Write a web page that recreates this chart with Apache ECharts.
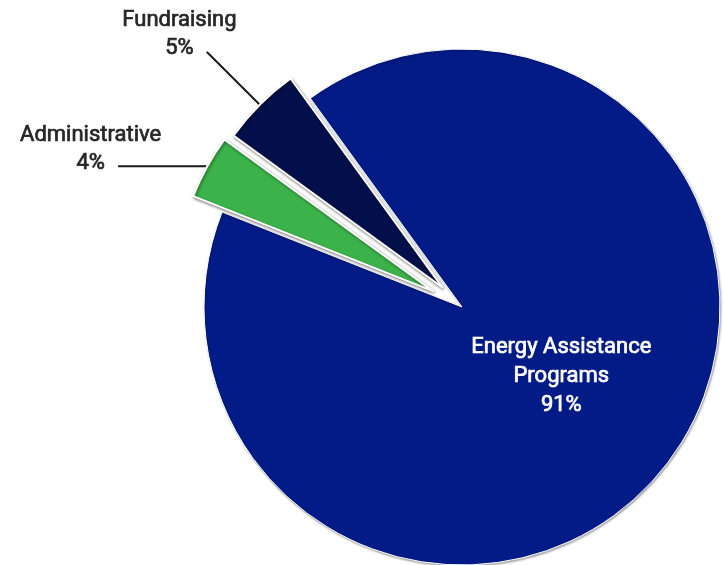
<!DOCTYPE html>
<html><head><meta charset="utf-8">
<script src="https://cdn.jsdelivr.net/npm/echarts@6/dist/echarts.min.js"></script>
<style>html,body{margin:0;padding:0;background:#fff}#chart{width:724px;height:565px}</style>
</head><body><div id="chart"></div>
<script>
// ---- data ----
const categories = ['Energy Assistance Programs', 'Administrative', 'Fundraising'];
const labelNames = ['Energy Assistance\nPrograms', 'Administrative', 'Fundraising'];
const values = [91, 4, 5];

// ---- styling ----
const colors = ['#031B86', '#3CB24A', '#020F4A'];
const explodeDist = [0, 33, 28];
const labelShift = [[-5, -11], [-27.5, -17], [-27, -17.5]];
const START = 126, CX = 462, CY = 307, R = 258;

const total = values.reduce((a, b) => a + b, 0);
let acc = 0;
const mids = values.map(v => {
  const a0 = START - acc / total * 360; acc += v;
  const a1 = START - acc / total * 360;
  return (a0 + a1) / 2 * Math.PI / 180;
});

const textColor = '#262626';
const fontFam = 'Roboto, "Liberation Sans", sans-serif';

function makeSeries(k) {
  const d = explodeDist[k];
  const center = [CX + Math.cos(mids[k]) * d, CY - Math.sin(mids[k]) * d];
  const inside = k === 0;
  return {
    type: 'pie',
    silent: true,
    animation: false,
    avoidLabelOverlap: false,
    startAngle: START,
    clockwise: true,
    center: center,
    radius: [0, R],
    emphasis: { disabled: true },
    data: values.map((v, i) => {
      if (i !== k) {
        return { name: categories[i], value: v,
          itemStyle: { color: 'rgba(0,0,0,0)', borderWidth: 0, shadowBlur: 0 },
          label: { show: false }, labelLine: { show: false } };
      }
      const tc = inside ? '#ffffff' : textColor;
      return {
        name: categories[i], value: v,
        itemStyle: {
          color: colors[i],
          borderColor: '#ffffff',
          borderWidth: inside ? 1 : 2,
          shadowColor: inside ? 'rgba(0,0,0,0.3)' : 'rgba(0,0,0,0.45)',
          shadowBlur: inside ? 2 : 3,
          shadowOffsetX: 1,
          shadowOffsetY: 1.5
        },
        label: {
          show: true,
          position: inside ? 'inside' : 'outside',
          formatter: labelNames[i] + '\n' + v + '%',
          color: tc,
          textBorderColor: tc,
          textBorderWidth: 0.7,
          fontFamily: fontFam,
          fontSize: 22,
          fontWeight: 'normal',
          lineHeight: inside ? 29 : 28,
          align: 'center'
        },
        labelLine: {
          show: !inside,
          length: i === 1 ? 1 : 74,
          length2: i === 1 ? 88 : 1,
          lineStyle: { color: '#1a1a1a', width: 2 }
        }
      };
    }),
    labelLayout: function (p) {
      const s = labelShift[k];
      if (!inside && p.labelLinePoints && p.labelLinePoints.length) {
        const pts = p.labelLinePoints;
        const end = pts[pts.length - 1];
        return { x: end[0] + s[0], y: end[1] + s[1], align: 'center', verticalAlign: 'middle', labelLinePoints: pts };
      }
      const r = p.labelRect;
      return { x: r.x + r.width / 2 + s[0], y: r.y + r.height / 2 + s[1], align: 'center', verticalAlign: 'middle' };
    }
  };
}

const chart = echarts.init(document.getElementById('chart'), null, { renderer: 'canvas' });
chart.setOption({
  backgroundColor: '#ffffff',
  animation: false,
  series: [makeSeries(0), makeSeries(1), makeSeries(2)]
});
</script></body></html>
